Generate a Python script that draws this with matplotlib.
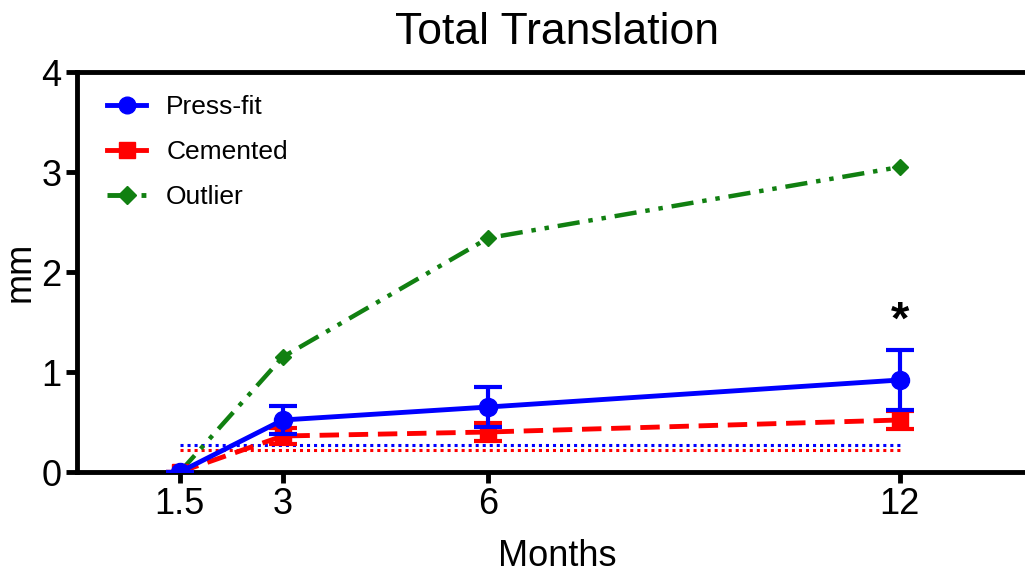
import matplotlib
matplotlib.use("Agg")
import matplotlib.pyplot as plt
from matplotlib.lines import Line2D

plt.rcParams['font.family'] = ['Liberation Sans', 'DejaVu Sans']

months = [1.5, 3, 6, 12]
month_labels = ["1.5", "3", "6", "12"]
pressfit = [0.0, 0.52, 0.65, 0.92]
pressfit_err = [0.0, 0.14, 0.20, 0.30]
cemented = [0.0, 0.36, 0.40, 0.52]
cemented_err = [0.0, 0.08, 0.09, 0.09]
outlier = [0.0, 1.15, 2.34, 3.05]
threshold_x = [1.5, 12]
pressfit_threshold = [0.27, 0.27]
cemented_threshold = [0.22, 0.22]

fig = plt.figure(figsize=(10.25, 5.75), dpi=100)
W, H = 1025, 575
x0, x1 = 77, 77 + 14 * 68.57
ax = fig.add_axes([x0 / W, (H - 472) / H, (x1 - x0) / W, 400 / H])

ax.plot(threshold_x, pressfit_threshold, color='blue', ls=(0, (1, 1.3)), lw=2.2)
ax.plot(threshold_x, cemented_threshold, color='red', ls=(0, (1, 1.3)), lw=2.2)

green_ls = (0, (5, 2, 1, 2, 1, 2))
ax.plot(months, outlier, color='#118011', ls=green_ls, lw=3.2,
        marker='D', ms=8, zorder=3)
ax.errorbar(months, cemented, yerr=cemented_err, color='red', ls=(0, (4, 2)), lw=3.5,
            marker='s', ms=12, capsize=10, capthick=3, elinewidth=3, zorder=4)
ax.errorbar(months, pressfit, yerr=pressfit_err, color='blue', ls='-', lw=3.5,
            marker='o', ms=13, capsize=10, capthick=3, elinewidth=3, zorder=5)

ax.text(12, 1.5, '*', ha='center', va='center', fontsize=34, fontweight='bold')

ax.set_xlim(0, 14)
ax.set_ylim(0, 4)
ax.set_xticks(months)
ax.set_xticklabels(month_labels)
ax.set_yticks([0, 1, 2, 3, 4])
ax.tick_params(axis='both', labelsize=26, width=3.5, length=8, direction='out', pad=3)
for s in ['left', 'bottom', 'top']:
    ax.spines[s].set_linewidth(3.5)
ax.spines['right'].set_visible(False)

ax.set_title('Total Translation', fontsize=32, pad=20)
ax.set_xlabel('Months', fontsize=26, labelpad=12)
ax.set_ylabel('mm', fontsize=26, labelpad=3)

handles = [
    Line2D([], [], color='blue', ls='-', lw=3.5, marker='o', ms=12),
    Line2D([], [], color='red', ls='-', lw=3.5, marker='s', ms=12),
    Line2D([], [], color='#118011', ls=green_ls, lw=3.5, marker='D', ms=9),
]
ax.legend(handles, ['Press-fit', 'Cemented', 'Outlier'], loc='upper left',
          bbox_to_anchor=(0.031, 0.943), frameon=False, fontsize=19,
          borderaxespad=0, borderpad=0,
          handlelength=1.5, labelspacing=0.8, handletextpad=0.75)

fig.savefig('out.png', dpi=100)
